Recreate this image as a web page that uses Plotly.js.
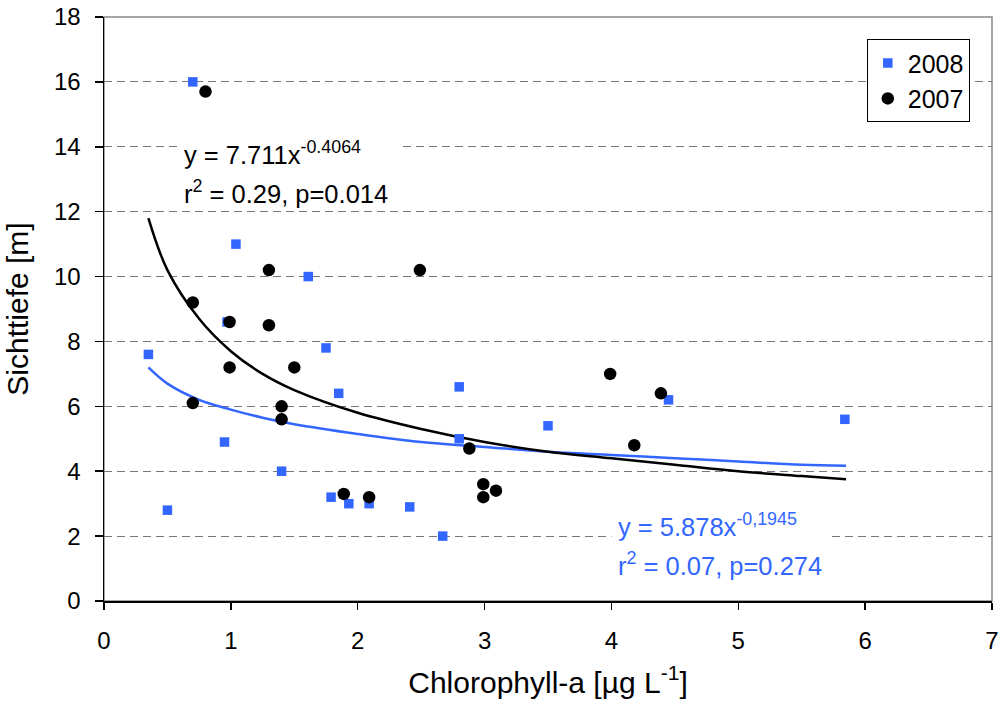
<!DOCTYPE html>
<html>
<head>
<meta charset="utf-8">
<script src="https://cdn.plot.ly/plotly-3.0.1.min.js"></script>
<style>
html,body{margin:0;padding:0;background:#fff;}
#chart{width:999px;height:711px;}
</style>
</head>
<body>
<div id="chart"></div>
<script>
// 2008 series (blue squares)
var x2008 = [0.70, 0.35, 0.50, 0.95, 1.04, 0.97, 1.40, 1.61, 1.75, 1.85, 1.79, 1.93, 2.09, 2.41, 2.67, 2.80, 2.80, 3.50, 4.45, 5.84];
var y2008 = [16.0, 7.6, 2.8, 4.9, 11.0, 8.6, 4.0, 10.0, 7.8, 6.4, 3.2, 3.0, 3.0, 2.9, 2.0, 6.6, 5.0, 5.4, 6.2, 5.6];
// 2007 series (black circles)
var x2007 = [0.80, 0.70, 0.99, 1.30, 1.30, 2.49, 0.99, 1.50, 0.70, 1.40, 1.40, 1.89, 2.09, 2.88, 2.99, 2.99, 3.09, 3.99, 4.39, 4.18];
var y2007 = [15.7, 9.2, 8.6, 10.2, 8.5, 10.2, 7.2, 7.2, 6.1, 6.0, 5.6, 3.3, 3.2, 4.7, 3.6, 3.2, 3.4, 7.0, 6.4, 4.8];
// trend lines
var trendX = [0.35, 0.5, 0.75, 1.0, 1.25, 1.5, 2.0, 2.5, 3.0, 3.5, 4.0, 4.5, 5.0, 5.5, 5.85];
var trend2007 = [11.8, 10.2, 8.7, 7.7, 7.0, 6.5, 5.8, 5.3, 4.9, 4.6, 4.4, 4.2, 4.0, 3.85, 3.75];
var trend2008 = [7.2, 6.7, 6.2, 5.9, 5.65, 5.45, 5.15, 4.9, 4.75, 4.6, 4.5, 4.4, 4.3, 4.2, 4.17];
// labels
var seriesNames = ['2008', '2007'];
var eq2007 = ['y = 7.711x<sup>-0.4064</sup>', 'r<sup>2</sup> = 0.29, p=0.014'];
var eq2008 = ['y = 5.878x<sup>-0,1945</sup>', 'r<sup>2</sup> = 0.07, p=0.274'];
var xTitle = 'Chlorophyll-a [µg L<sup>-1</sup>]';
var yTitle = 'Sichttiefe [m]';

var BLUE = '#3366ff';
var FONT = 'Liberation Sans, Arial, sans-serif';

var traces = [
  {x: trendX, y: trend2008, mode: 'lines', line: {color: BLUE, width: 2.5, shape: 'spline'}, showlegend: false, hoverinfo: 'skip'},
  {x: trendX, y: trend2007, mode: 'lines', line: {color: '#000', width: 2.5, shape: 'spline'}, showlegend: false, hoverinfo: 'skip'},
  {x: x2008, y: y2008, mode: 'markers', name: seriesNames[0], marker: {symbol: 'square', size: 9.5, color: BLUE}},
  {x: x2007, y: y2007, mode: 'markers', name: seriesNames[1], marker: {symbol: 'circle', size: 12.5, color: '#000'}}
];

var layout = {
  width: 999, height: 711,
  margin: {l: 104, r: 7, t: 17, b: 110},
  paper_bgcolor: '#fff', plot_bgcolor: '#fff',
  font: {family: FONT, size: 24, color: '#000'},
  showlegend: true,
  legend: {x: 0.859, y: 0.962, xanchor: 'left', yanchor: 'top', bgcolor: '#fff', bordercolor: '#000', borderwidth: 1, font: {size: 25, color: '#000'}},
  xaxis: {
    range: [0, 7], tick0: 0, dtick: 1, showgrid: false, zeroline: false,
    showline: true, linecolor: '#000', linewidth: 1.5, ticks: 'outside', ticklen: 7, tickcolor: '#000', tickwidth: 1.5,
    ticklabelstandoff: 11,
    tickfont: {size: 24}, title: {text: xTitle, font: {size: 30}, standoff: 18}
  },
  yaxis: {
    range: [0, 18], tick0: 0, dtick: 2, showgrid: true, gridcolor: '#777', gridwidth: 1, griddash: '8px,5px', zeroline: false,
    showline: true, linecolor: '#000', linewidth: 1.5, ticks: 'outside', ticklen: 8, tickcolor: '#000', tickwidth: 1.5,
    ticklabelstandoff: 9,
    tickfont: {size: 24}, title: {text: yTitle, font: {size: 30}, standoff: 16}
  },
  shapes: [
    {type: 'rect', xref: 'paper', yref: 'paper', x0: 0, x1: 1, y0: 0, y1: 1, line: {color: '#888', width: 1.5}, layer: 'below'}
  ],
  annotations: [
    {xref: 'x', yref: 'y', x: 0.575, y: 13.82, xanchor: 'left', yanchor: 'middle', text: eq2007[0], showarrow: false, align: 'left', width: 208, borderpad: 6, bgcolor: '#fff', font: {size: 25.5, color: '#000'}},
    {xref: 'x', yref: 'y', x: 0.575, y: 12.6, xanchor: 'left', yanchor: 'middle', text: eq2007[1], showarrow: false, align: 'left', borderpad: 6, font: {size: 25.5, color: '#000'}},
    {xref: 'x', yref: 'y', x: 4.0, y: 2.35, xanchor: 'left', yanchor: 'middle', text: eq2008[0], showarrow: false, align: 'left', width: 203, borderpad: 6, bgcolor: '#fff', font: {size: 25.5, color: BLUE}},
    {xref: 'x', yref: 'y', x: 4.0, y: 1.15, xanchor: 'left', yanchor: 'middle', text: eq2008[1], showarrow: false, align: 'left', borderpad: 6, font: {size: 25.5, color: BLUE}}
  ]
};

Plotly.newPlot('chart', traces, layout, {displayModeBar: false, staticPlot: true});
</script>
</body>
</html>
